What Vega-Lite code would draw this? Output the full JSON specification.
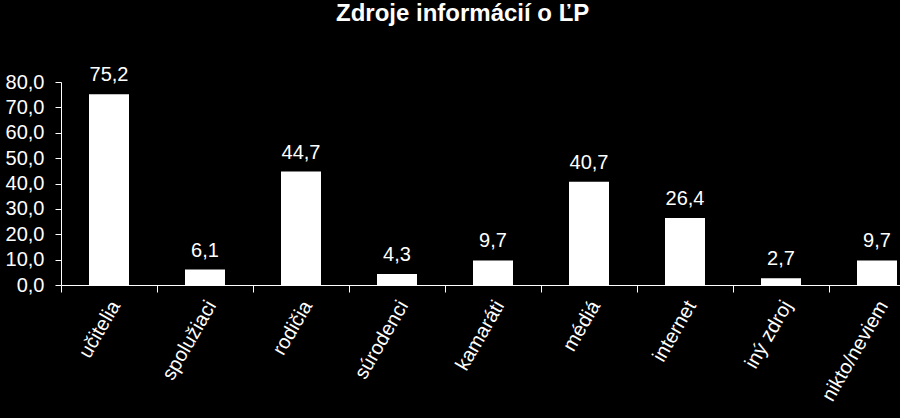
{
  "$schema": "https://vega.github.io/schema/vega-lite/v6.json",
  "autosize": "none",
  "width": 839,
  "height": 203,
  "padding": {"left": 61, "top": 82, "right": 0, "bottom": 133},
  "background": "#000000",
  "config": {
    "locale": {"number": {"decimal": ",", "thousands": " ", "grouping": [3], "currency": ["", " €"]}},
    "view": {"stroke": null},
    "font": "Liberation Sans"
  },
  "title": {
    "text": "Zdroje informácií o ĽP",
    "font": "Liberation Sans",
    "fontSize": 24,
    "fontWeight": "bold",
    "color": "#ffffff",
    "anchor": "start",
    "dx": 275,
    "dy": -35,
    "frame": "group"
  },
  "data": {
    "values": [
      {"zdroj": "učitelia", "hodnota": 75.2},
      {"zdroj": "spolužiaci", "hodnota": 6.1},
      {"zdroj": "rodičia", "hodnota": 44.7},
      {"zdroj": "súrodenci", "hodnota": 4.3},
      {"zdroj": "kamaráti", "hodnota": 9.7},
      {"zdroj": "médiá", "hodnota": 40.7},
      {"zdroj": "internet", "hodnota": 26.4},
      {"zdroj": "iný zdroj", "hodnota": 2.7},
      {"zdroj": "nikto/neviem", "hodnota": 9.7}
    ]
  },
  "encoding": {
    "x": {
      "field": "zdroj",
      "type": "nominal",
      "sort": null,
      "scale": {"range": [0, 864], "paddingInner": 0, "paddingOuter": 0},
      "axis": {
        "title": null,
        "labelAngle": -60,
        "labelAlign": "right",
        "labelBaseline": "middle",
        "labelFontSize": 20,
        "labelColor": "#ffffff",
        "labelPadding": 10,
        "labelOffset": 6,
        "tickBand": "extent",
        "tickSize": 7,
        "tickColor": "#ffffff",
        "domainColor": "#ffffff",
        "grid": false,
        "labelFont": "Liberation Sans"
      }
    },
    "y": {
      "field": "hodnota",
      "type": "quantitative",
      "scale": {"domain": [0, 80], "nice": false},
      "axis": {
        "title": null,
        "values": [0, 10, 20, 30, 40, 50, 60, 70, 80],
        "format": ".1f",
        "labelFontSize": 20,
        "labelColor": "#ffffff",
        "labelPadding": 11,
        "tickSize": 6,
        "tickColor": "#ffffff",
        "domainColor": "#ffffff",
        "grid": false,
        "labelFont": "Liberation Sans"
      }
    }
  },
  "layer": [
    {"mark": {"type": "bar", "color": "#ffffff", "size": 40}},
    {
      "mark": {"type": "text", "color": "#ffffff", "fontSize": 20, "baseline": "bottom", "dy": -9, "font": "Liberation Sans"},
      "encoding": {"text": {"field": "hodnota", "type": "quantitative", "format": ".1f"}}
    }
  ]
}
